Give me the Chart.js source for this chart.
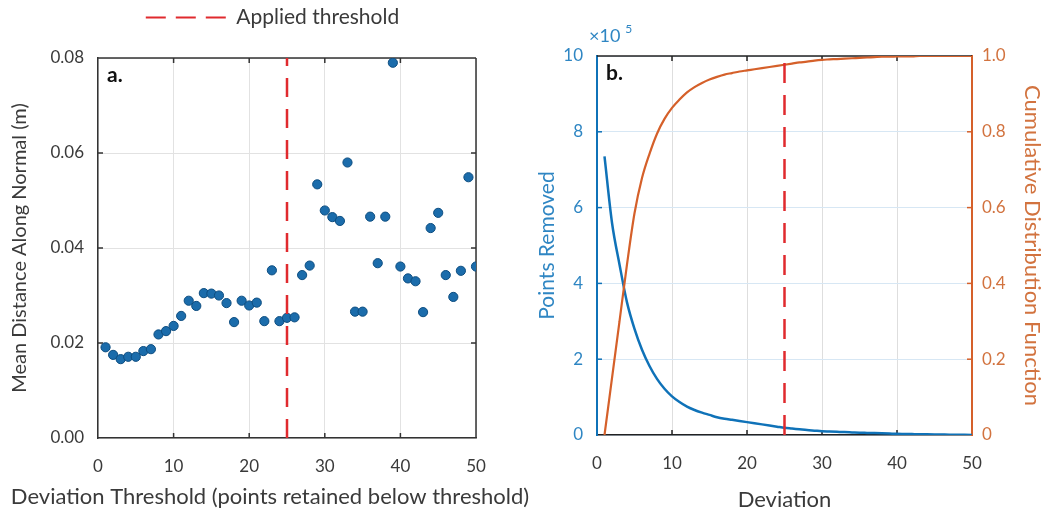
<!DOCTYPE html>
<html>
<head>
<meta charset="utf-8">
<script src="https://cdn.jsdelivr.net/npm/chart.js@4.4.1/dist/chart.umd.min.js"></script>
<style>
body { margin: 0; background: #fff; width: 1046px; height: 517px; overflow: hidden; position: relative; }
canvas { position: absolute; top: 0; }
#thresholdChart { left: 0; }
#deviationChart { left: 525px; }
</style>
</head>
<body>
<canvas id="thresholdChart" width="545" height="517"></canvas>
<canvas id="deviationChart" width="521" height="517"></canvas>
<script>
// panel a: mean distance for each deviation threshold
const thresholds = [1,2,3,4,5,6,7,8,9,10,11,12,13,14,15,16,17,18,19,20,21,22,23,24,25,
    26,27,28,29,30,31,32,33,34,35,36,37,38,39,40,41,42,43,44,45,46,47,48,49,50];
const meanDistance = [0.0191,0.0175,0.0166,0.0171,0.0171,0.0183,0.0187,0.0218,0.0225,0.0236,
    0.0257,0.0289,0.0278,0.0305,0.0304,0.0300,0.0284,0.0244,0.0289,0.0279,
    0.0285,0.0246,0.0353,0.0246,0.0253,0.0254,0.0343,0.0363,0.0534,0.0479,
    0.0465,0.0457,0.0580,0.0266,0.0266,0.0466,0.0368,0.0466,0.0790,0.0361,
    0.0336,0.0330,0.0265,0.0442,0.0474,0.0343,0.0297,0.0352,0.0549,0.0361];

// panel b: points removed and CDF per deviation
const deviations = [1,2,3,4,5,6,7,8,9,10,11,12,13,14,15,16,17,18,19,20,21,22,23,24,25,
    26,27,28,29,30,31,32,33,34,35,36,37,38,39,40,41,42,43,44,45,46,47,48,49,50];
const pointsRemoved = [735000,560000,450000,350000,280000,225000,182000,148000,122000,102000,
    87000,75000,66000,59000,53000,47000,43000,40000,37000,34000,
    31000,28000,25000,22000,19000,17000,15000,13000,11500,10000,
    9200,8400,7600,6900,6200,5600,5000,4400,3800,3200,
    2800,2400,2000,1700,1400,1100,800,600,400,200];
const cdf = [0,0.15,0.30,0.45,0.585,0.678,0.742,0.795,0.834,0.863,
    0.885,0.904,0.918,0.929,0.938,0.945,0.951,0.955,0.959,0.962,
    0.965,0.968,0.971,0.974,0.977,0.980,0.983,0.985,0.988,0.990,
    0.991,0.992,0.993,0.994,0.995,0.996,0.997,0.998,0.998,0.999,
    0.999,0.999,1,1,1,1,1,1,1,1];
const appliedThreshold = 25;

const FONT = 'Lato, "Open Sans", sans-serif';
const TEXT = '#3a3a3a';
const BLUE = '#0f72b8';
const BLUE_TEXT = '#2f86c3';
const ORANGE = '#d5602a';
const ORANGE_TEXT = '#d2733f';
const RED = '#e02a2e';

const toXY = (xs, ys) => xs.map((x, i) => ({ x, y: ys[i] }));
const fixWidth = w => scale => { scale.width = w; };
const fixHeight = h => scale => { scale.height = h; };

// top/right box edges, inward tick marks, panel letter and extra labels
const panelFrame = {
    id: 'panelFrame',
    beforeDatasetsDraw(chart, args, opts) {
        const { ctx, chartArea: a, scales } = chart;
        ctx.save();
        ctx.lineWidth = 1.5;
        ctx.strokeStyle = opts.top;
        ctx.beginPath(); ctx.moveTo(a.left, a.top); ctx.lineTo(a.right, a.top); ctx.stroke();
        if (opts.right) {
            ctx.strokeStyle = opts.right;
            ctx.beginPath(); ctx.moveTo(a.right, a.top); ctx.lineTo(a.right, a.bottom); ctx.stroke();
        }
        opts.marks.forEach(m => {
            const s = scales[m.scale];
            ctx.strokeStyle = m.color;
            s.ticks.forEach(t => {
                if (t.value === s.min || t.value === s.max) return;
                const p = s.getPixelForValue(t.value);
                ctx.beginPath();
                if (m.side === 'bottom') { ctx.moveTo(p, a.bottom); ctx.lineTo(p, a.bottom - 5); }
                if (m.side === 'top') { ctx.moveTo(p, a.top); ctx.lineTo(p, a.top + 5); }
                if (m.side === 'left') { ctx.moveTo(a.left, p); ctx.lineTo(a.left + 5, p); }
                if (m.side === 'right') { ctx.moveTo(a.right, p); ctx.lineTo(a.right - 5, p); }
                ctx.stroke();
            });
        });
        ctx.fillStyle = '#111';
        ctx.font = 'bold 21px ' + FONT;
        ctx.textBaseline = 'alphabetic';
        ctx.fillText(opts.letter, a.left + 9, a.top + 24);
        if (opts.exponent) {
            ctx.fillStyle = BLUE_TEXT;
            ctx.font = '18px ' + FONT;
            const x0 = a.left - 8;
            ctx.fillText('×10', x0, a.top - 14);
            const w = ctx.measureText('×10').width;
            ctx.font = '12px ' + FONT;
            ctx.fillText('5', x0 + w + 5, a.top - 23);
        }
        if (opts.xTitle) {
            // wider than the plot, so drawn here rather than as a clipped scale title
            ctx.fillStyle = TEXT;
            ctx.font = '22px ' + FONT;
            ctx.textAlign = 'center';
            ctx.textBaseline = 'middle';
            ctx.fillText(opts.xTitle, opts.xTitleX, opts.xTitleY);
        }
        ctx.restore();
    }
};

new Chart(document.getElementById('thresholdChart'), {
    type: 'scatter',
    data: {
        datasets: [{
            label: 'Applied threshold',
            data: [{ x: appliedThreshold, y: 0 }, { x: appliedThreshold, y: 0.08 }],
            xAxisID: 'x',
            yAxisID: 'y',
            showLine: true,
            borderColor: RED,
            borderWidth: 2.5,
            borderDash: [19, 12],
            pointRadius: 0
        }, {
            label: 'Mean distance',
            data: toXY(thresholds, meanDistance),
            xAxisID: 'x',
            yAxisID: 'y',
            backgroundColor: '#1b6cab',
            borderColor: '#0d4d80',
            borderWidth: 1,
            pointRadius: 4.6
        }]
    },
    options: {
        responsive: false,
        animation: false,
        layout: { padding: 0 },
        plugins: {
            tooltip: { enabled: false },
            legend: {
                display: true,
                position: 'top',
                labels: {
                    color: TEXT,
                    font: { family: FONT, size: 21 },
                    usePointStyle: true,
                    pointStyle: 'line',
                    pointStyleWidth: 80,
                    padding: 7,
                    generateLabels: chart => Chart.defaults.plugins.legend.labels.generateLabels(chart)
                        .filter(item => item.datasetIndex === 0)
                        .map(item => ({ ...item, lineWidth: 1.8, lineDash: [20, 10] }))
                }
            },
            panelFrame: {
                top: '#333', right: '#333', letter: 'a.',
                xTitle: 'Deviation Threshold (points retained below threshold)', xTitleX: 270, xTitleY: 497,
                marks: [
                    { scale: 'x', side: 'bottom', color: '#333' },
                    { scale: 'x', side: 'top', color: '#333' },
                    { scale: 'y', side: 'left', color: '#333' },
                    { scale: 'y', side: 'right', color: '#333' }
                ]
            }
        },
        scales: {
            x: {
                type: 'linear', position: 'bottom',
                min: 0, max: 50,
                afterFit: fixHeight(79),
                ticks: { stepSize: 10, color: TEXT, padding: 18, font: { family: FONT, size: 17 } },
                grid: { color: '#e2e2e2', drawTicks: false },
                border: { color: '#333', width: 1.5 }
            },
            y: {
                type: 'linear', position: 'left',
                min: 0, max: 0.08,
                afterFit: fixWidth(98),
                ticks: { stepSize: 0.02, color: TEXT, padding: 14, font: { family: FONT, size: 17 }, callback: v => v.toFixed(2) },
                grid: { color: '#e2e2e2', drawTicks: false },
                border: { color: '#333', width: 1.5 },
                title: { display: true, text: 'Mean Distance Along Normal (m)', color: TEXT, font: { family: FONT, size: 20 }, padding: { top: 8 } }
            },
            // empty bands: between legend and plot, and right of the plot
            spacer: {
                type: 'linear', position: 'top', min: 0, max: 1,
                afterFit: fixHeight(20),
                ticks: { display: false },
                grid: { display: false },
                border: { display: false }
            },
            spacerRight: {
                type: 'linear', position: 'right', min: 0, max: 1,
                afterFit: fixWidth(69),
                ticks: { display: false },
                grid: { display: false },
                border: { display: false }
            }
        }
    },
    plugins: [panelFrame]
});

new Chart(document.getElementById('deviationChart'), {
    type: 'line',
    data: {
        datasets: [{
            label: 'Applied threshold',
            data: [{ x: appliedThreshold, y: 0 }, { x: appliedThreshold, y: 0.985 }],
            yAxisID: 'y1',
            borderColor: RED,
            borderWidth: 2.5,
            borderDash: [20, 12],
            pointRadius: 0
        }, {
            label: 'Cumulative Distribution Function',
            data: toXY(deviations, cdf),
            yAxisID: 'y1',
            borderColor: ORANGE,
            borderWidth: 2.2,
            pointRadius: 0,
            cubicInterpolationMode: 'monotone'
        }, {
            label: 'Points Removed',
            data: toXY(deviations, pointsRemoved),
            yAxisID: 'y',
            borderColor: BLUE,
            borderWidth: 2.5,
            pointRadius: 0,
            cubicInterpolationMode: 'monotone'
        }]
    },
    options: {
        responsive: false,
        animation: false,
        layout: { padding: { top: 56, right: 0, left: 0, bottom: 0 } },
        plugins: {
            tooltip: { enabled: false },
            legend: { display: false },
            panelFrame: {
                top: '#222', letter: 'b.', exponent: true,
                marks: [
                    { scale: 'x', side: 'bottom', color: '#222' },
                    { scale: 'x', side: 'top', color: '#222' },
                    { scale: 'y', side: 'left', color: BLUE },
                    { scale: 'y1', side: 'right', color: ORANGE }
                ]
            }
        },
        scales: {
            x: {
                type: 'linear',
                min: 0, max: 50,
                afterFit: fixHeight(82),
                ticks: { stepSize: 10, color: TEXT, padding: 18, font: { family: FONT, size: 17 } },
                grid: { color: '#dedede', drawTicks: false },
                border: { color: '#222', width: 1.5 },
                title: { display: true, text: 'Deviation', color: TEXT, font: { family: FONT, size: 22 }, padding: { top: 3 } }
            },
            y: {
                position: 'left',
                min: 0, max: 1000000,
                afterFit: fixWidth(72),
                ticks: { stepSize: 200000, color: BLUE_TEXT, padding: 14, font: { family: FONT, size: 17 }, callback: v => String(v / 100000) },
                grid: { color: '#d7e7f4', drawTicks: false },
                border: { color: BLUE, width: 2 },
                title: { display: true, text: 'Points Removed', color: BLUE_TEXT, font: { family: FONT, size: 21 }, padding: { top: 10 } }
            },
            y1: {
                position: 'right',
                min: 0, max: 1,
                afterFit: fixWidth(74),
                ticks: { stepSize: 0.2, color: ORANGE_TEXT, padding: 10, font: { family: FONT, size: 17 }, callback: v => v === 0 ? '0' : v.toFixed(1) },
                grid: { drawOnChartArea: false, drawTicks: false },
                border: { color: ORANGE, width: 2 },
                title: { display: true, text: 'Cumulative Distribution Function', color: ORANGE_TEXT, font: { family: FONT, size: 22 }, padding: { top: 1 } }
            }
        }
    },
    plugins: [panelFrame]
});
</script>
</body>
</html>
